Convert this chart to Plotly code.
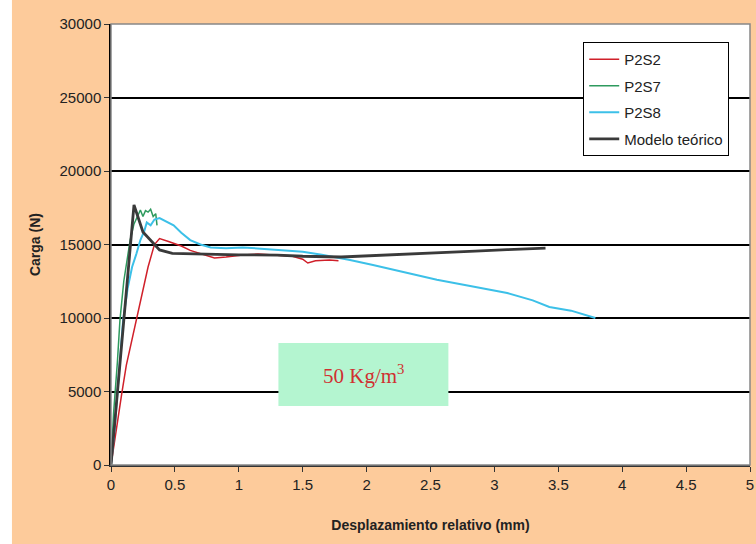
import plotly.graph_objects as go

# P2S2 (red)
red_x = [0, 0.04, 0.085, 0.12, 0.16, 0.2, 0.25, 0.29, 0.34, 0.38, 0.45, 0.55, 0.62, 0.72,
         0.81, 0.9, 1.03, 1.15, 1.3, 1.42, 1.5, 1.54, 1.6, 1.71, 1.78]
red_y = [0, 2400, 4900, 6800, 8400, 9860, 11800, 13470, 15000, 15400, 15200, 14900, 14600, 14300,
         14080, 14150, 14290, 14350, 14290, 14200, 14000, 13740, 13900, 13950, 13900]

# P2S7 (green)
green_x = [0, 0.02, 0.05, 0.07, 0.1, 0.13, 0.15, 0.18, 0.21, 0.23, 0.25, 0.27, 0.29, 0.31, 0.33, 0.35, 0.36]
green_y = [0, 3500, 7000, 9860, 12500, 14300, 15300, 16400, 17000, 17350, 16900, 17300, 17200, 17400,
           16900, 17100, 16300]

# P2S8 (cyan)
cyan_x = [0, 0.03, 0.05, 0.095, 0.13, 0.165, 0.2, 0.23, 0.26, 0.28, 0.31, 0.34, 0.38, 0.42, 0.49,
          0.55, 0.62, 0.7, 0.78, 0.9, 1.03, 1.2, 1.35, 1.5, 1.65, 1.87, 2.05, 2.3, 2.55, 2.8, 3.1,
          3.3, 3.43, 3.6, 3.79]
cyan_y = [0, 2600, 4900, 9860, 12000, 13470, 14400, 15300, 15900, 16500, 16300, 16700, 16800, 16600,
          16300, 15800, 15300, 15000, 14800, 14750, 14800, 14700, 14600, 14500, 14300, 13950, 13600,
          13100, 12600, 12200, 11700, 11200, 10750, 10500, 10000]

# Modelo teorico (dark)
model_x = [0, 0.18, 0.25, 0.32, 0.38, 0.48, 0.7, 1.0, 1.3, 1.5, 1.8, 2.1, 2.5, 2.85, 3.1, 3.4]
model_y = [0, 17690, 15850, 15170, 14630, 14400, 14350, 14300, 14280, 14200, 14150, 14250, 14420,
           14550, 14650, 14760]

x_ticks = [0, 0.5, 1, 1.5, 2, 2.5, 3, 3.5, 4, 4.5, 5]
y_ticks = [0, 5000, 10000, 15000, 20000, 25000, 30000]

font_main = 'Liberation Sans, Arial, sans-serif'

fig = go.Figure()
series = [
    ('P2S2', red_x, red_y, '#d0202a', 1.5),
    ('P2S7', green_x, green_y, '#2e9a5e', 1.5),
    ('P2S8', cyan_x, cyan_y, '#3cc0e8', 2),
    ('Modelo teórico', model_x, model_y, '#3a3a3a', 2.8),
]
for name, xs, ys, color, w in series:
    fig.add_trace(go.Scatter(x=xs, y=ys, name=name, mode='lines', legendgroup=name,
                             line=dict(color=color, width=w)))

fig.update_layout(
    width=756, height=544,
    margin=dict(l=111, r=6, t=24, b=79),
    paper_bgcolor='#fdcb9b',
    plot_bgcolor='white',
    font=dict(family=font_main, size=15, color='#222'),
    showlegend=True,
    legend=dict(
        x=0.739, y=0.959, xanchor='left', yanchor='top',
        bgcolor='white', bordercolor='black', borderwidth=1,
        font=dict(size=15, color='#222'),
        tracegroupgap=4,
    ),
    shapes=[
        dict(type='rect', xref='paper', yref='paper', x0=-0.2, x1=-0.155, y0=-0.3, y1=1.1,
             fillcolor='white', line=dict(width=0), layer='below'),
        dict(type='rect', xref='paper', yref='paper', x0=0, x1=1, y0=0, y1=1,
             line=dict(color='#888', width=1.5), layer='above'),
        dict(type='rect', xref='x', yref='y', x0=1.31, x1=2.64, y0=4010, y1=8300,
             fillcolor='#b4f5d0', line=dict(width=0), layer='above'),
    ],
    annotations=[
        dict(x=1.975, y=6150, xref='x', yref='y', text='50 Kg/m<sup>3</sup>', showarrow=False,
             font=dict(family='Liberation Serif, Times New Roman, serif', size=21, color='#d03030')),
    ],
)

fig.update_xaxes(
    range=[0, 5], tickvals=x_ticks, ticktext=[str(v) for v in x_ticks],
    showgrid=False, zeroline=False, automargin=False,
    showline=True, linecolor='#333', linewidth=1.5,
    ticks='outside', ticklen=5, tickcolor='#333',
    title=dict(text='<b>Desplazamiento relativo (mm)</b>', font=dict(size=14), standoff=28),
)
fig.update_yaxes(
    range=[0, 30000], tickvals=y_ticks, ticktext=[str(v) for v in y_ticks],
    showgrid=True, gridcolor='black', gridwidth=1.5, zeroline=False, automargin=False,
    showline=True, linecolor='black', linewidth=1.5,
    ticks='outside', ticklen=5, tickcolor='#333',
    title=dict(text='<b>Carga (N)</b>', font=dict(size=14), standoff=16),
)

fig.write_html('out.html', config={'displayModeBar': False},
               post_script="document.body.style.margin='0';")
